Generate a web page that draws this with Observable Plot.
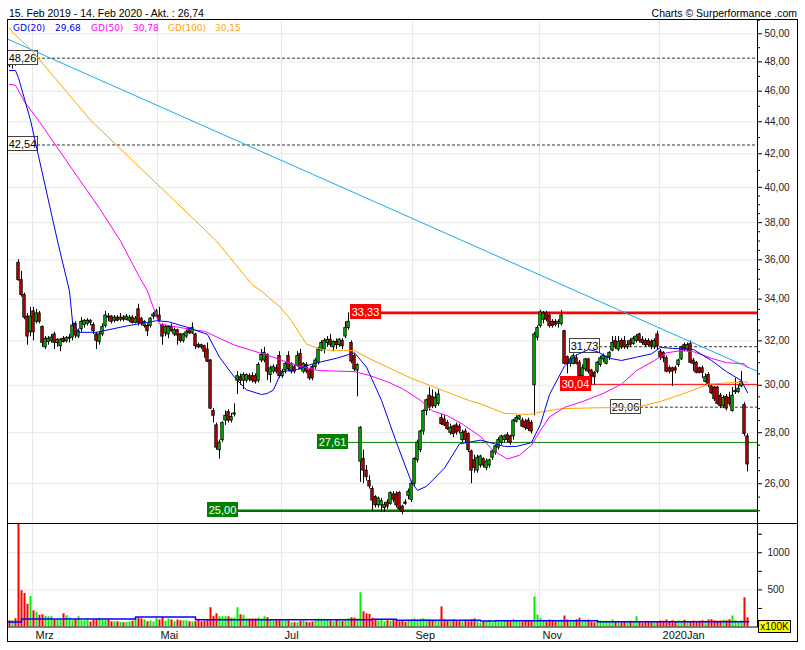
<!DOCTYPE html>
<html><head><meta charset="utf-8">
<script src="https://cdn.jsdelivr.net/npm/d3@7"></script>
<script src="https://cdn.jsdelivr.net/npm/@observablehq/plot@0.6"></script>
<style>
html,body{margin:0;padding:0;background:#fff;}
#wrap{position:relative;width:805px;height:650px;overflow:hidden;font-family:"Liberation Sans",Arial,sans-serif;}
#wrap svg{position:absolute;left:0;}
</style></head><body><div id="wrap"></div>
<script>
// ---------- data ----------
const opens = [48.0,47.8,48.0,35.85,34.95,34.2,33.15,32.4,33.4,32.9,
33.3,32.65,31.7,31.95,32.0,32.3,31.9,31.75,32.1,31.98,
32.1,32.15,32.8,32.2,32.55,32.75,32.8,32.95,32.75,32.3,
31.95,32.3,32.7,33.15,33.15,32.95,33.1,33.0,33.1,33.0,
32.95,33.1,32.85,33.5,33.05,32.7,32.7,32.7,33.15,33.15,
33.2,32.75,32.35,32.3,32.65,32.3,32.5,32.3,32.0,32.2,
32.55,32.35,32.3,31.8,31.8,31.75,31.6,31.1,28.9,28.3,
27.3,27.7,28.5,28.85,28.5,28.75,30.2,30.35,30.2,30.2,
30.4,30.4,30.4,30.2,31.1,31.1,31.35,30.45,30.6,30.75,
31.3,30.4,30.65,31.3,30.6,30.8,30.85,31.4,30.6,30.9,
30.65,30.8,30.8,31.0,31.55,31.6,31.9,32.05,31.7,31.95,
31.8,32.0,32.2,32.6,31.9,31.3,30.65,26.85,26.95,26.5,
26.1,25.8,25.5,25.2,25.2,25.1,25.3,25.25,25.6,25.6,
25.65,25.15,25.3,25.55,25.4,26.0,26.9,27.3,28.05,28.9,
29.55,29.5,29.1,29.2,28.6,28.55,28.4,28.0,28.25,28.3,
28.25,27.7,28.05,27.95,27.25,26.9,26.5,26.7,26.95,26.6,
26.7,27.0,27.2,27.4,27.6,27.7,27.9,27.85,27.85,28.45,
28.55,28.5,28.45,28.5,28.4,30.0,32.15,32.7,33.0,33.3,
33.2,32.9,32.9,32.8,32.8,32.45,31.25,30.95,30.95,31.2,
31.0,30.4,30.7,31.15,30.65,30.55,30.6,30.9,31.15,30.95,
31.25,31.55,32.0,31.6,32.0,32.0,31.7,32.0,31.85,32.0,
32.3,32.05,32.0,32.0,31.95,31.7,32.3,31.5,31.45,31.2,
30.75,30.75,30.75,30.9,31.15,31.8,31.6,31.85,31.1,31.0,
30.75,30.75,30.15,30.45,29.95,29.9,29.9,29.55,29.1,29.5,
29.45,28.9,29.7,29.7,29.95,29.15,27.85];
const highs = [48.3,48.2,48.26,36.0,35.4,34.3,33.3,33.6,33.6,33.5,
33.4,32.7,32.2,32.2,32.3,32.4,32.1,32.1,32.2,32.2,
32.3,32.9,32.9,32.55,33.1,33.0,33.05,33.0,32.85,32.4,
32.4,32.8,33.4,33.3,33.2,33.2,33.2,33.3,33.2,33.25,
33.2,33.2,33.15,33.75,33.1,32.95,32.8,33.1,33.35,33.5,
33.6,32.8,32.75,32.7,32.8,32.6,32.55,32.35,32.35,32.5,
32.6,32.85,32.35,31.9,31.85,31.8,31.9,31.15,29.0,28.4,
27.7,28.45,28.9,28.95,28.8,29.2,30.6,30.5,30.55,30.5,
30.5,30.55,30.5,31.0,31.6,31.7,31.4,30.85,30.9,30.9,
31.5,30.7,31.0,31.5,31.0,30.9,31.5,31.6,31.0,31.0,
30.75,30.9,31.2,31.7,32.0,32.1,32.2,32.3,32.0,32.1,
32.1,32.1,32.9,33.33,32.0,31.4,30.95,28.25,27.3,26.7,
26.3,25.9,25.55,25.5,25.45,25.3,25.4,25.7,25.7,25.7,
25.7,25.2,25.4,25.8,26.1,27.0,27.7,28.1,28.95,29.4,
29.9,29.8,29.7,29.8,28.75,28.7,28.5,28.35,28.3,28.4,
28.35,28.1,28.15,28.0,27.3,27.1,27.1,27.1,27.0,26.95,
26.95,27.3,27.5,27.8,27.9,27.9,28.0,27.9,28.55,28.7,
28.7,28.6,28.55,28.6,28.5,32.4,32.7,33.45,33.4,33.4,
33.35,33.0,33.0,33.0,33.45,32.5,31.3,31.25,31.4,31.35,
31.1,30.9,31.2,31.2,30.7,30.6,31.05,31.3,31.4,31.3,
31.5,32.2,32.2,32.2,32.1,32.2,32.0,32.1,32.2,32.3,
32.35,32.2,32.1,32.1,32.05,32.1,32.45,31.6,31.5,31.3,
30.85,30.8,30.85,31.15,31.75,31.9,31.9,32.0,31.2,31.05,
30.8,30.85,30.5,30.55,30.0,29.95,29.95,29.65,29.55,29.6,
29.7,29.9,30.3,30.0,30.6,29.25,27.95];
const lows = [47.6,47.5,47.7,34.9,34.1,33.0,31.8,32.2,32.0,32.8,
32.8,31.7,31.6,31.8,31.9,31.6,31.7,31.5,31.9,31.9,
31.9,32.0,32.1,32.1,32.4,32.6,32.7,32.7,32.3,31.6,
31.8,32.2,32.6,32.9,32.8,32.85,32.9,32.9,32.9,32.95,
32.85,32.8,32.8,32.7,32.7,32.6,32.2,32.6,33.0,33.1,
32.9,31.8,32.2,32.1,32.4,32.2,31.8,31.9,31.9,32.1,
32.3,32.3,31.6,31.65,31.6,31.2,31.0,28.95,28.4,27.3,
26.95,27.6,28.3,28.4,28.4,28.65,29.6,30.0,29.8,30.1,
30.15,30.1,30.05,30.1,31.0,31.0,30.2,30.1,30.5,30.5,
30.3,30.3,30.5,30.6,30.5,30.5,30.8,30.7,30.5,30.5,
30.2,30.2,30.7,30.9,31.5,31.4,31.7,31.7,31.5,31.6,
31.7,31.6,32.1,32.5,30.95,30.6,29.5,26.05,26.0,26.1,
25.8,25.0,25.1,25.1,24.95,24.95,25.05,25.2,25.3,25.1,
25.0,24.85,25.2,25.4,25.3,25.9,26.8,27.2,27.9,28.7,
28.9,29.0,29.0,29.1,28.3,28.25,28.1,27.9,27.8,27.9,
27.95,27.6,27.6,27.2,26.0,26.4,26.4,26.6,26.6,26.5,
26.6,26.9,27.1,27.3,27.5,27.6,27.6,27.5,27.7,28.4,
28.5,28.2,28.1,28.05,27.95,28.7,32.0,32.6,32.8,32.9,
32.6,32.6,32.65,32.6,32.7,30.9,30.5,30.8,30.9,30.9,
30.1,30.3,30.6,30.5,30.0,30.0,30.5,30.8,31.0,30.9,
31.1,31.5,31.6,31.5,31.6,31.6,31.6,31.7,31.8,31.9,
31.9,31.8,31.7,31.7,31.6,31.6,31.6,31.1,31.0,30.55,
30.5,29.95,30.5,30.8,31.1,31.5,31.5,30.95,30.6,30.5,
30.5,30.3,30.1,29.9,29.6,29.3,29.15,29.0,29.0,28.9,
29.1,28.85,29.6,29.65,29.9,27.85,26.45];
const closes = [47.75,48.0,47.9,34.95,34.2,33.1,32.2,33.15,32.4,33.3,
32.9,31.9,32.1,32.1,32.15,31.9,32.05,32.05,31.95,32.12,
32.15,32.72,32.25,32.45,32.9,32.95,32.95,32.85,32.45,32.0,
32.3,32.65,33.2,33.1,32.9,33.1,32.95,33.1,33.0,33.15,
33.1,32.85,33.05,32.85,32.8,32.9,32.45,33.05,33.25,33.4,
32.95,32.2,32.65,32.65,32.45,32.5,32.25,32.0,32.3,32.4,
32.35,32.6,31.75,31.7,31.7,31.5,31.05,29.0,28.7,27.4,
27.6,28.4,28.7,28.5,28.65,28.8,30.4,30.2,30.45,30.45,
30.25,30.2,30.15,30.9,31.35,31.45,30.6,30.75,30.8,30.6,
30.4,30.6,30.95,30.7,30.95,30.6,31.3,30.7,30.95,30.6,
30.3,30.3,31.1,31.6,31.9,32.0,32.05,31.8,31.95,31.8,
32.05,31.75,32.6,32.9,31.05,30.7,30.9,28.2,26.5,26.25,
25.9,25.37,25.2,25.45,25.35,25.2,25.15,25.65,25.4,25.2,
25.05,24.95,25.25,25.7,26.0,26.95,27.6,28.05,28.9,29.35,
29.05,29.1,29.45,29.6,28.35,28.3,28.15,28.2,27.95,28.0,
28.05,28.0,27.7,27.3,26.5,26.6,27.0,27.05,26.7,26.85,
26.9,27.25,27.45,27.7,27.85,27.85,27.7,27.6,28.5,28.6,
28.68,28.25,28.2,28.15,28.05,32.3,32.6,33.35,33.3,33.0,
32.7,32.7,32.75,32.9,33.2,30.95,30.95,31.15,31.3,30.95,
30.4,30.75,31.15,30.6,30.4,30.35,31.0,31.2,31.3,31.25,
31.45,31.9,31.7,31.95,31.7,31.7,31.8,31.8,32.1,32.2,
32.0,31.9,31.8,31.8,31.75,32.0,31.75,31.25,31.2,30.6,
30.6,30.6,30.65,31.1,31.7,31.6,31.8,31.0,30.95,30.55,
30.55,30.55,30.35,30.0,29.65,29.4,29.2,29.1,29.45,29.0,
29.2,29.55,29.75,29.85,30.15,27.95,26.74];
// volume in units of 100K
const volumes = [85,85,112,1400,490,450,305,410,220,200,
157,166,144,139,139,94,99,94,180,153,
121,85,94,139,85,85,94,67,94,99,
117,94,90,99,72,72,72,63,58,63,
67,76,108,117,108,94,72,81,67,112,
94,126,76,108,94,72,94,85,85,81,
72,67,72,103,72,76,99,260,144,180,
139,139,139,139,121,121,260,166,157,112,
108,108,108,121,108,139,126,94,85,85,
85,85,85,85,58,58,58,76,76,63,
58,67,85,108,99,103,90,81,72,94,
85,76,99,112,126,117,108,462,205,180,
170,117,94,81,90,72,85,76,94,85,
72,81,63,90,99,108,94,103,112,99,
94,85,81,90,270,99,85,72,94,76,
85,67,90,72,99,108,85,54,72,63,
90,58,85,72,67,76,81,72,99,85,
72,67,81,76,72,404,160,112,90,72,
94,76,67,85,90,148,94,72,81,99,
117,72,85,94,63,58,90,81,63,76,
72,94,67,72,58,63,67,76,72,139,
63,54,67,72,58,67,72,81,76,94,
72,85,67,81,72,90,63,72,81,67,
76,85,72,94,99,85,76,81,90,85,
99,148,85,72,81,395,126];

const ma20Idx = [0,2,3,7,16,20,21,23,29,39,49,53,59,66,70,75,79,84,86,88,90,91,96,101,109,115,119,124,129,134,136,139,145,150,157,165,169,174,177,180,185,189,193,196,200,204,209,214,217,221,228,234,239,244,246];
const ma20Val = [47.4,47.4,46.9,44.1,37.0,34.4,32.9,32.4,32.4,32.7,32.95,32.9,32.65,32.3,31.25,30.35,29.8,29.6,29.65,29.8,30.4,30.6,30.7,30.95,31.2,31.45,30.8,29.35,27.6,26.05,25.75,25.9,26.6,27.55,27.7,27.45,27.45,27.6,28.35,29.6,30.85,31.35,31.6,31.5,31.2,31.1,31.25,31.4,31.7,31.65,31.6,31.1,30.6,30.2,29.68];
const ma50Idx = [0,2,5,10,20,30,37,43,46,49,50,56,62,65,75,81,88,94,98,103,115,120,126,131,137,141,146,151,157,161,166,170,174,177,180,185,191,198,204,209,215,219,224,228,234,239,245,246];
const ma50Val = [46.45,46.4,45.3,44.0,41.3,38.8,37.0,35.2,34.4,33.15,32.8,32.65,32.5,32.45,31.8,31.55,31.25,30.95,30.8,30.65,30.6,30.43,30.15,29.85,29.35,28.9,28.7,28.35,27.85,27.3,26.95,27.1,27.5,28.1,28.65,29.05,29.3,29.65,30.05,30.65,31.1,31.45,31.55,31.5,31.2,31.0,30.95,30.78];
const ma100Idx = [0,1,7,27,69,81,84,87,90,94,99,104,109,115,119,126,134,143,149,153,157,165,173,177,184,195,209,217,226,233,239,246];
const ma100Val = [50.45,50.1,48.9,44.1,37.0,34.7,34.4,34.0,33.65,32.95,31.85,31.6,31.55,31.55,31.25,30.8,30.3,29.85,29.55,29.35,29.2,28.8,28.75,28.85,29.0,29.03,29.06,29.3,29.7,30.05,30.1,30.15];
const trendIdx = [-0.667,249.333];
const trendVal = [49.62,30.61];
const volMaIdx = [-0.3,4,42,62,121,129,157,162,196,246.4];
const volMaVal = [67,108,135,97,103,90,80,85,70,70];

// horizontal levels
const levelValues = [48.26,42.54,33.33,31.73,30.04,29.06,27.61,25.00];
const levelStarts = [-0.667,-0.667,113.7,186.7,183.7,200.3,102.7,66];
const levelKinds = ["dash","dash","redBold","dash","red","dash","green","greenBold"];

// axes
const monthIdx = [7.67,49.33,90.67,134.33,176.67,216.67];
const monthLabels = ["Mrz","Mai","Jul","Sep","Nov","2020Jan"];
const priceTicks = [26,28,30,32,34,36,38,40,42,44,46,48,50];
const priceMinor = [25,25.5,26.5,27,27.5,28.5,29,29.5,30.5,31,31.5,32.5,33,33.5,34.5,35,35.5,36.5,37,37.5,38.5,39,39.5,41,43,45,47,49,51];
const volTicks = [250,500,750,1000,1250];
const volLabels = [500,1000];
const legendNames = ["GD(20)","GD(50)","GD(100)"];
const headerLeft = "15. Feb 2019 - 14. Feb 2020 - Akt. : ";
const headerRight = "Charts \u00a9 Surperformance .com";

// ---------- drawing ----------
const fmt = v => v.toFixed(2).replace(".", ",");
const idx = d3.range(closes.length);
const up = i => closes[i] >= opens[i];
const XD = [-2/3, 748/3];
const XR = XD[1];
const wrap = document.getElementById("wrap");
const font = '"Liberation Sans", Arial, sans-serif';
const levels = levelValues.map((v,k)=>({v, s: levelStarts[k], kind: levelKinds[k]}));
const lineStyle = {
  dash: {stroke:"#333", w:1, dash:"3,2"},
  redBold: {stroke:"#ff0000", w:2.6},
  red: {stroke:"#ff0000", w:1},
  green: {stroke:"#008000", w:1},
  greenBold: {stroke:"#007000", w:2.6}
};
const boxStyle = {
  dash: {fill:"#fff", stroke:"#444", text:"#000"},
  redBold: {fill:"#ff0000", stroke:"#ff0000", text:"#fff"},
  red: {fill:"#ff0000", stroke:"#ff0000", text:"#fff"},
  green: {fill:"#007f00", stroke:"#007f00", text:"#fff"},
  greenBold: {fill:"#007f00", stroke:"#007f00", text:"#fff"}
};
function levelBoxes(index, scales) {
  const g = d3.create("svg:g");
  levels.forEach(d => {
    const x = Math.round(scales.x(d.s)), y = Math.round(scales.y(d.v));
    const st = boxStyle[d.kind];
    g.append("rect").attr("x", Math.max(x,7)+0.5).attr("y", y-7.5).attr("width", 30).attr("height", 14)
      .attr("fill", st.fill).attr("stroke", st.stroke).attr("stroke-width", 1);
    g.append("text").attr("x", Math.max(x,7)+15.5).attr("y", y+4).attr("text-anchor","middle")
      .attr("fill", st.text).attr("font-size", 11).attr("font-family", font).text(fmt(d.v));
  });
  return g.node();
}
const levelMarks = Object.keys(lineStyle).map(k => {
  const st = lineStyle[k];
  return Plot.ruleY(levels.filter(d=>d.kind===k), {y:"v", x1:"s", x2: XR, stroke: st.stroke, strokeWidth: st.w, strokeDasharray: st.dash});
});

const price = Plot.plot({
  width: 805, height: 524,
  marginLeft: 7, marginRight: 48, marginTop: 19, marginBottom: 1,
  x: {domain: XD, axis: null},
  y: {type: "log", domain: [24.54, 51.05], axis: null},
  color: {type: "identity"},
  style: {background: "transparent", fontFamily: font, fontSize: "10px", maxWidth: "none", overflow: "visible"},
  marks: [
    Plot.ruleY(priceTicks, {stroke: "#e8e8e8"}),
    Plot.ruleX(monthIdx, {stroke: "#e8e8e8"}),
    ...levelMarks,
    Plot.ruleX(idx, {x: i=>i, y1: i=>lows[i], y2: i=>highs[i], stroke: "#000", strokeWidth: 1}),
    Plot.rect(idx, {x1: i=>i-0.4, x2: i=>i+0.4, y1: i=>opens[i], y2: i=>closes[i],
      fill: i=> up(i) ? "#00cc00" : "#e00000", stroke: "#000", strokeWidth: 0.9}),
    levelBoxes,
    Plot.line(trendIdx, {x: (d,k)=>trendIdx[k], y: (d,k)=>trendVal[k], stroke: "#1ea8ec", strokeWidth: 1}),
    Plot.line(ma100Idx, {x: (d,k)=>ma100Idx[k], y: (d,k)=>ma100Val[k], stroke: "#ffa500", strokeWidth: 1}),
    Plot.line(ma50Idx, {x: (d,k)=>ma50Idx[k], y: (d,k)=>ma50Val[k], stroke: "#ff00ff", strokeWidth: 1}),
    Plot.line(ma20Idx, {x: (d,k)=>ma20Idx[k], y: (d,k)=>ma20Val[k], stroke: "#0000ee", strokeWidth: 1}),
    Plot.ruleY(priceTicks, {x1: XR, x2: XR + 5/3, stroke: "#000"}),
    Plot.ruleY(priceMinor, {x1: XR, x2: XR + 3/3, stroke: "#000"}),
    Plot.text(priceTicks, {y: d=>d, frameAnchor: "right", dx: 7, textAnchor: "start", text: d=>fmt(d), fill: "#222", fontSize: 10})
  ]
});
price.style.top = "0px";
wrap.appendChild(price);

const vol = Plot.plot({
  width: 805, height: 125,
  marginLeft: 7, marginRight: 48, marginTop: 4, marginBottom: 18.5,
  x: {domain: XD, axis: null},
  y: {domain: [0, 1381], axis: null},
  color: {type: "identity"},
  style: {background: "transparent", fontFamily: font, fontSize: "10px", maxWidth: "none", overflow: "visible"},
  marks: [
    Plot.ruleY(volLabels, {stroke: "#e8e8e8"}),
    Plot.ruleX(monthIdx, {stroke: "#e8e8e8"}),
    Plot.ruleX(idx, {x: i=>i, y1: 0, y2: i=>volumes[i], stroke: i=> up(i) ? "#00ee00" : "#ff0000", strokeWidth: 2, clip: true}),
    Plot.line(volMaIdx, {x: (d,k)=>volMaIdx[k], y: (d,k)=>volMaVal[k], curve: "step-after", stroke: "#0000ff", strokeWidth: 1.5}),
    Plot.ruleY(volTicks, {x1: XR, x2: XR + 5/3, stroke: "#000"}),
    Plot.text(volLabels, {y: d=>d, frameAnchor: "right", dx: 10, textAnchor: "start", text: d=>String(d), fill: "#222", fontSize: 10}),
    Plot.text(monthIdx, {x: d=>d, frameAnchor: "bottom", dx: 3, dy: 12, textAnchor: "start", lineAnchor: "bottom",
      text: (d,k)=>monthLabels[k], fill: "#111", fontSize: 11})
  ]
});
vol.style.top = "520px";
wrap.appendChild(vol);

// overlay: frame, header, legend
const ov = d3.select(wrap).append("svg").attr("width", 805).attr("height", 650).style("top","0px").style("pointer-events","none");
const ln = (x1,y1,x2,y2,w=1) => ov.append("line").attr("x1",x1).attr("y1",y1).attr("x2",x2).attr("y2",y2).attr("stroke","#000").attr("stroke-width",w);
ln(7,19.5,798,19.5); ln(7.5,19,7.5,642); ln(797.5,19,797.5,642); ln(7,641.5,798,641.5);
ln(7,523.5,798,523.5); ln(757.5,19,757.5,627.5); ln(7,627,757,627,1.2);
ov.append("text").attr("x",9).attr("y",16.5).attr("font-family",font).attr("font-size",10.5).attr("fill","#000")
  .text(headerLeft + fmt(closes[closes.length-1]));
ov.append("text").attr("x",797).attr("y",16.5).attr("text-anchor","end").attr("font-family",font).attr("font-size",10.5).attr("fill","#000")
  .text(headerRight);
const legendVals = [ma20Val[ma20Val.length-1], ma50Val[ma50Val.length-1], ma100Val[ma100Val.length-1]];
const legendColors = ["#0000ee","#ff00ff","#ffa500"];
const legendX = [[13,55],[91,133],[168,215]];
legendNames.forEach((n,k)=>{
  ov.append("text").attr("x",legendX[k][0]).attr("y",30.5).attr("font-family","DejaVu Sans").attr("font-size",9).attr("fill",legendColors[k]).text(n);
  ov.append("text").attr("x",legendX[k][1]).attr("y",30.5).attr("font-family","DejaVu Sans").attr("font-size",9).attr("fill",legendColors[k]).text(fmt(legendVals[k]));
});
ov.append("rect").attr("x",758.5).attr("y",620.5).attr("width",32).attr("height",12).attr("fill","#ffff00").attr("stroke","#000");
ov.append("text").attr("x",774.5).attr("y",630).attr("text-anchor","middle").attr("font-family",font).attr("font-size",10).attr("fill","#000").text("x100K");
</script></body></html>
